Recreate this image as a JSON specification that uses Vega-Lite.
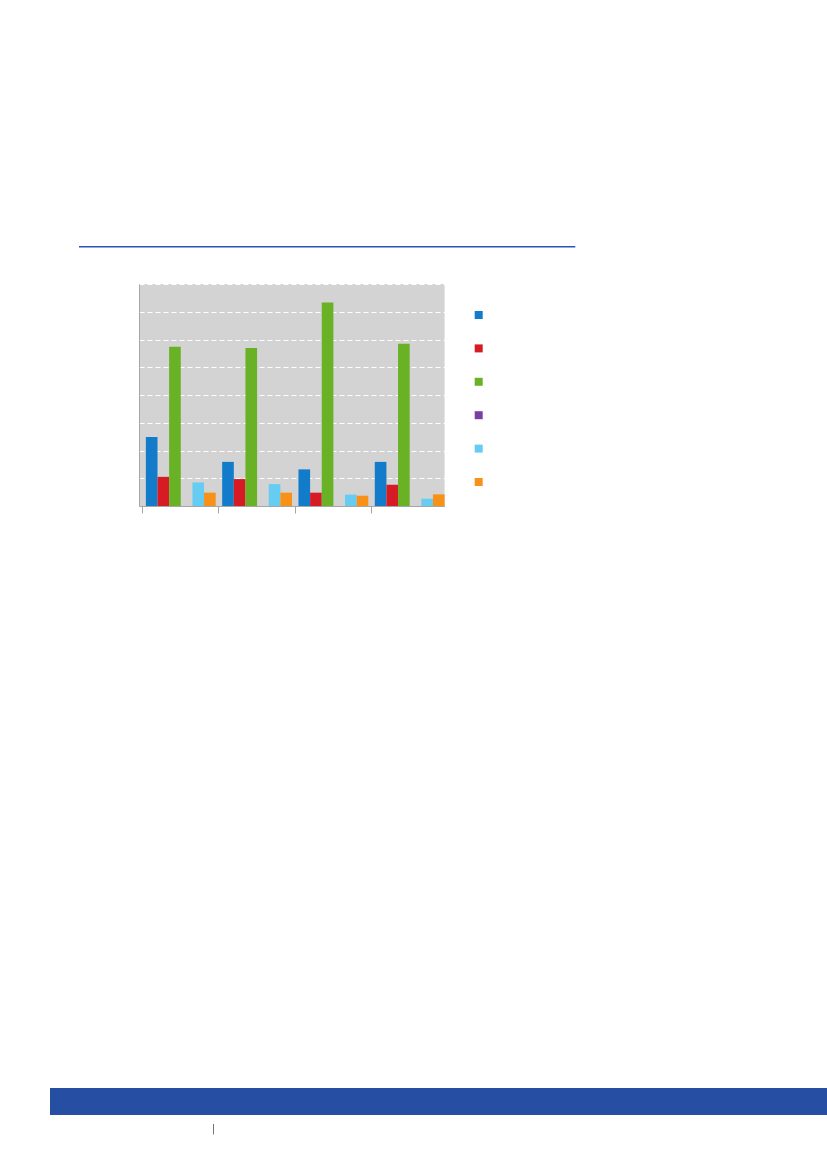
{
  "$schema": "https://vega.github.io/schema/vega-lite/v6.json",
  "padding": 0,
  "background": "white",
  "spacing": 0,
  "bounds": "flush",
  "config": {"view": {"stroke": null}},
  "vconcat": [
    {"width": 10, "height": 245.3, "data": {"values": [{}]}, "mark": {"type": "point", "opacity": 0}, "encoding": {}},
    {
      "spacing": 0, "bounds": "flush",
      "hconcat": [
        {"width": 78.3, "height": 1.4, "data": {"values": [{}]}, "mark": {"type": "point", "opacity": 0}, "encoding": {}},
        {"width": 496.3, "height": 1.4, "view": {"fill": "#2B52B4", "stroke": null}, "data": {"values": [{}]}, "mark": {"type": "point", "opacity": 0}, "encoding": {}}
      ]
    },
    {"width": 10, "height": 38, "data": {"values": [{}]}, "mark": {"type": "point", "opacity": 0}, "encoding": {}},
    {
      "spacing": 0, "bounds": "flush",
      "hconcat": [
        {"width": 138.7, "height": 222, "data": {"values": [{}]}, "mark": {"type": "point", "opacity": 0}, "encoding": {}},
        {
          "width": 305.6,
          "height": 222,
          "view": {"fill": "#D3D3D3", "stroke": null},
          "data": {"values": [
            {"group": "1", "series": "S1", "value": 2.49},
            {"group": "1", "series": "S2", "value": 1.05},
            {"group": "1", "series": "S3", "value": 5.74},
            {"group": "1", "series": "S4", "value": 0},
            {"group": "1", "series": "S5", "value": 0.85},
            {"group": "1", "series": "S6", "value": 0.48},
            {"group": "2", "series": "S1", "value": 1.59},
            {"group": "2", "series": "S2", "value": 0.97},
            {"group": "2", "series": "S3", "value": 5.69},
            {"group": "2", "series": "S4", "value": 0},
            {"group": "2", "series": "S5", "value": 0.79},
            {"group": "2", "series": "S6", "value": 0.48},
            {"group": "3", "series": "S1", "value": 1.32},
            {"group": "3", "series": "S2", "value": 0.48},
            {"group": "3", "series": "S3", "value": 7.33},
            {"group": "3", "series": "S4", "value": 0},
            {"group": "3", "series": "S5", "value": 0.41},
            {"group": "3", "series": "S6", "value": 0.37},
            {"group": "4", "series": "S1", "value": 1.59},
            {"group": "4", "series": "S2", "value": 0.77},
            {"group": "4", "series": "S3", "value": 5.85},
            {"group": "4", "series": "S4", "value": 0},
            {"group": "4", "series": "S5", "value": 0.26},
            {"group": "4", "series": "S6", "value": 0.42}
          ]},
          "mark": {"type": "bar"},
          "encoding": {
            "x": {
              "field": "group", "type": "nominal", "sort": null,
              "scale": {"paddingInner": 0.085, "paddingOuter": 0.045, "align": 1},
              "axis": {"labels": false, "title": null, "grid": false, "domainColor": "#A6A6A6", "domainWidth": 1, "tickColor": "#A6A6A6", "tickSize": 7, "tickWidth": 1, "bandPosition": -0.047}
            },
            "xOffset": {"field": "series", "type": "nominal", "sort": null, "scale": {"paddingInner": 0, "paddingOuter": 0}},
            "y": {
              "field": "value", "type": "quantitative",
              "scale": {"domain": [0, 8], "nice": false},
              "axis": {"labels": false, "ticks": false, "title": null, "values": [0, 1, 2, 3, 4, 5, 6, 7, 8], "grid": true, "gridColor": "#FFFFFF", "gridDash": [5, 3], "gridWidth": 1, "gridOpacity": 1, "domainColor": "#A6A6A6", "domainWidth": 1}
            },
            "color": {
              "field": "series", "type": "nominal", "sort": null,
              "scale": {"domain": ["S1", "S2", "S3", "S4", "S5", "S6"], "range": ["#127BCA", "#D71B24", "#69B226", "#7B3FA1", "#66CCF2", "#F79118"]},
              "legend": {"orient": "none", "legendX": 474.7, "legendY": 311, "direction": "vertical", "title": null, "symbolType": "square", "symbolSize": 64, "symbolStrokeWidth": 0, "symbolOpacity": 1, "labelExpr": "''", "labelFontSize": 6, "rowPadding": 25.4, "padding": 0}
            }
          }
        }
      ]
    },
    {"width": 10, "height": 804, "data": {"values": [{}]}, "mark": {"type": "point", "opacity": 0}, "encoding": {}},
    {
      "spacing": 0, "bounds": "flush",
      "hconcat": [
        {"width": 50, "height": 27, "data": {"values": [{}]}, "mark": {"type": "point", "opacity": 0}, "encoding": {}},
        {"width": 777, "height": 27, "view": {"fill": "#264EA3", "stroke": null}, "data": {"values": [{}]}, "mark": {"type": "point", "opacity": 0}, "encoding": {}}
      ]
    },
    {"width": 10, "height": 35.4, "data": {"values": [{}]}, "mark": {"type": "point", "opacity": 0}, "encoding": {}},
    {
      "spacing": 0, "bounds": "flush",
      "hconcat": [
        {"width": 212.6, "height": 10.6, "data": {"values": [{}]}, "mark": {"type": "point", "opacity": 0}, "encoding": {}},
        {"width": 0.9, "height": 10.6, "view": {"fill": "#666666", "stroke": null}, "data": {"values": [{}]}, "mark": {"type": "point", "opacity": 0}, "encoding": {}}
      ]
    }
  ]
}
